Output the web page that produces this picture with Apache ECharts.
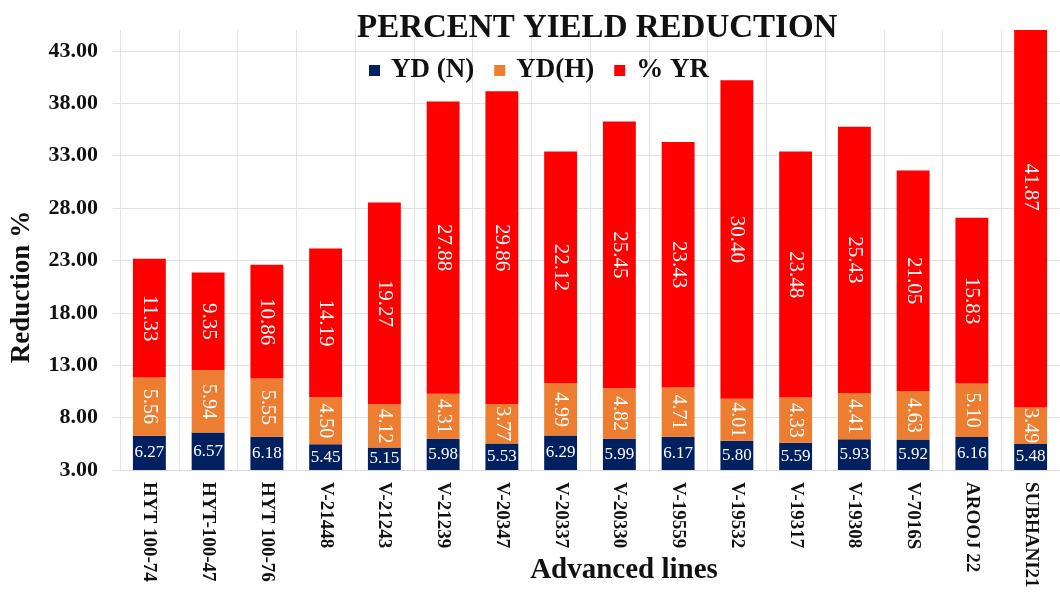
<!DOCTYPE html>
<html>
<head>
<meta charset="utf-8">
<script src="https://cdn.jsdelivr.net/npm/echarts@6/dist/echarts.min.js"></script>
<style>html,body{margin:0;padding:0;background:#fff;}#c{width:1060px;height:592px;}</style>
</head>
<body>
<div id="c"></div>
<script>
const categories = ["HYT 100-74", "HYT-100-47", "HYT 100-76", "V-21448", "V-21243", "V-21239", "V-20347", "V-20337", "V-20330", "V-19559", "V-19532", "V-19317", "V-19308", "V-7016S", "AROOJ 22", "SUBHANI21"];
const ydN = [6.27, 6.57, 6.18, 5.45, 5.15, 5.98, 5.53, 6.29, 5.99, 6.17, 5.80, 5.59, 5.93, 5.92, 6.16, 5.48];
const ydH = [5.56, 5.94, 5.55, 4.50, 4.12, 4.31, 3.77, 4.99, 4.82, 4.71, 4.01, 4.33, 4.41, 4.63, 5.10, 3.49];
const yr = [11.33, 9.35, 10.86, 14.19, 19.27, 27.88, 29.86, 22.12, 25.45, 23.43, 30.40, 23.48, 25.43, 21.05, 15.83, 41.87];
const yMin = 3, yMax = 45, yStep = 5;

const SERIF = '"Liberation Serif", "Times New Roman", serif';
const fmt = p => Number(p.value).toFixed(2);

const yrData = yr.map((v, i) => {
  if (i === yr.length - 1) {
    return { value: v, label: { position: ['50%', '41.6%'], align: 'center', verticalAlign: 'middle' } };
  }
  return v;
});

const chart = echarts.init(document.getElementById('c'), null, { renderer: 'canvas' });
chart.setOption({
  animation: false,
  backgroundColor: '#ffffff',
  title: {
    text: 'PERCENT YIELD REDUCTION',
    left: 352, top: 7,
    textStyle: { fontFamily: SERIF, fontWeight: 'bold', fontSize: 33, color: '#111' }
  },
  legend: {
    left: 364, top: 52,
    icon: 'rect', itemWidth: 11, itemHeight: 11, itemGap: 20,
    textStyle: { fontFamily: SERIF, fontWeight: 'bold', fontSize: 27, color: '#111', padding: [0, 0, 0, 6] },
    data: ['YD (N)', 'YD(H)', '% YR']
  },
  grid: { left: 120, right: -12.5, top: 30, bottom: 122, containLabel: false },
  xAxis: {
    type: 'category',
    data: categories,
    axisLine: { show: true, lineStyle: { color: '#d9d9d9' } },
    axisTick: { show: false },
    splitLine: { show: true, interval: 0, lineStyle: { color: '#e3e3e3' } },
    axisLabel: {
      interval: 0, rotate: -90, margin: 12,
      fontFamily: SERIF, fontWeight: 'bold', fontSize: 19, color: '#111'
    }
  },
  yAxis: {
    type: 'value',
    min: yMin, max: yMax, interval: yStep,
    axisLine: { show: false },
    axisTick: { show: true, length: 7, lineStyle: { color: '#e3e3e3' } },
    splitLine: { show: true, showMaxLine: false, lineStyle: { color: '#e3e3e3' } },
    axisLabel: {
      showMaxLabel: false, margin: 22,
      formatter: v => v.toFixed(2),
      fontFamily: SERIF, fontWeight: 'bold', fontSize: 22, color: '#111'
    }
  },
  graphic: [
    {
      type: 'text', x: 22, y: 287, rotation: Math.PI / 2,
      style: { text: 'Reduction %', font: 'bold 27px ' + SERIF, fill: '#111', textAlign: 'center', textVerticalAlign: 'middle' }
    },
    {
      type: 'text', x: 624, y: 571,
      style: { text: 'Advanced lines', font: 'bold 29px ' + SERIF, fill: '#111', textAlign: 'center', textVerticalAlign: 'middle' }
    }
  ],
  series: [
    {
      name: 'YD (N)', type: 'bar', stack: 'total', barWidth: '56%',
      itemStyle: { color: '#002060' },
      label: { show: true, position: 'inside', formatter: fmt, color: '#fff', fontFamily: SERIF, fontSize: 17 },
      data: ydN
    },
    {
      name: 'YD(H)', type: 'bar', stack: 'total',
      itemStyle: { color: '#ED7D31' },
      label: { show: true, position: 'inside', rotate: -90, formatter: fmt, color: '#fff', fontFamily: SERIF, fontSize: 20 },
      data: ydH
    },
    {
      name: '% YR', type: 'bar', stack: 'total',
      itemStyle: { color: '#FF0000' },
      label: { show: true, position: 'inside', rotate: -90, formatter: fmt, color: '#fff', fontFamily: SERIF, fontSize: 21 },
      data: yrData
    }
  ]
});
</script>
</body>
</html>
